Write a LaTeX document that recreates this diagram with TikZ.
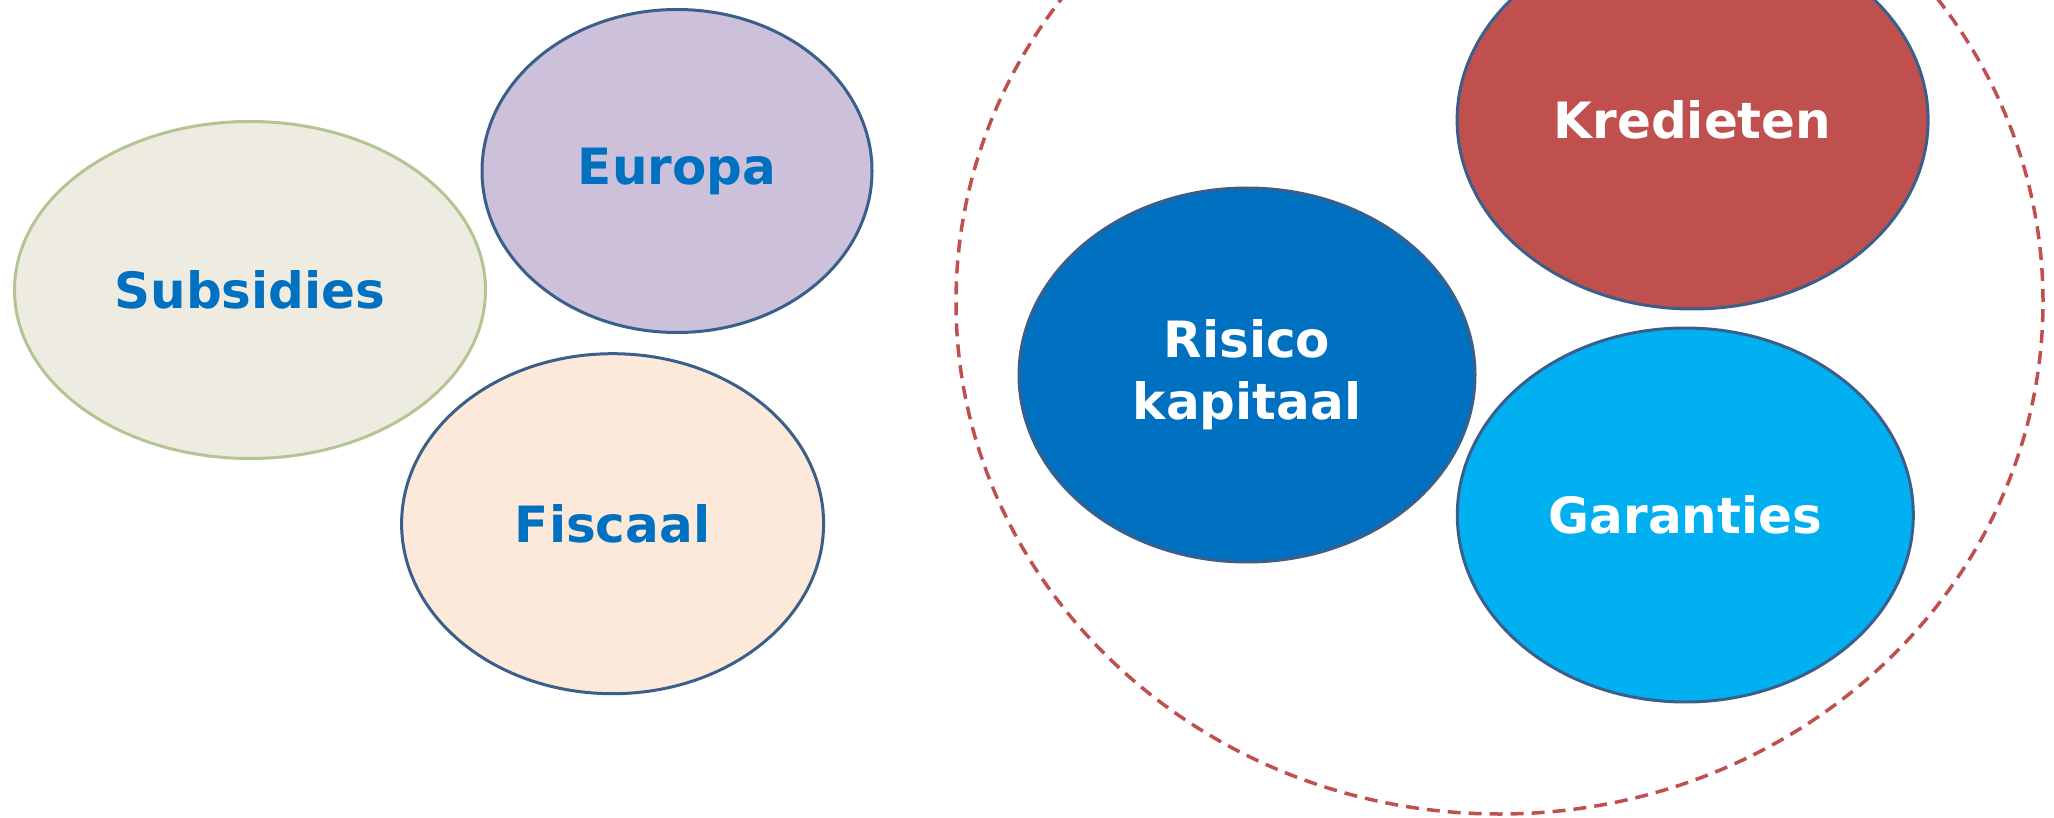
\documentclass[tikz,border=0pt]{standalone}
\usepackage{fontspec}
\setmainfont{DejaVu Sans}
\usepackage{tikz}
\usepackage{xcolor}
\usetikzlibrary{positioning,shapes.geometric}

\definecolor{rimblue}{HTML}{3A5F8B}
\definecolor{rimgreen}{HTML}{B4C492}
\definecolor{textblue}{HTML}{0070C0}
\definecolor{dashred}{HTML}{C0504D}

\begin{document}
\begin{tikzpicture}[x=1pt,y=1pt]
\tikzset{bubble/.style={ellipse,draw=rimblue,line width=3pt,inner sep=0pt,
  font=\fontsize{50}{62}\selectfont\bfseries,align=center},
  leftbubble/.style={bubble,text=textblue},
  rightbubble/.style={bubble,text=white}}
\useasboundingbox (0,0) rectangle (2054,-818);
% outer dashed ring
\draw [dashred,line width=3.5pt,dash pattern=on 13pt off 8pt] (1499.5,-302) ellipse (543.5 and 512);
% left group
\node [leftbubble,draw=rimgreen,fill={rgb,255:red,238;green,236;blue,225},minimum width=471,minimum height=337] (subsidies) at (250,-290) {Subsidies};
\node [leftbubble,fill={rgb,255:red,204;green,192;blue,218},minimum width=390,minimum height=323] (europa) at (677,-171) {Europa};
\node [leftbubble,fill={rgb,255:red,253;green,233;blue,217},minimum width=422,minimum height=340] (fiscaal) at (612.6,-523.7) {Fiscaal};
% right group
\node [rightbubble,fill=dashred,minimum width=471,minimum height=378] (kredieten) at (1692.6,-120) {Kredieten};
\node [rightbubble,fill=textblue,minimum width=456,minimum height=374] (risico) at (1247,-375) {Risico\\kapitaal};
\node [rightbubble,fill={rgb,255:red,0;green,176;blue,240},minimum width=456,minimum height=374] (garanties) at (1685.3,-515) {Garanties};
\end{tikzpicture}
\end{document}
